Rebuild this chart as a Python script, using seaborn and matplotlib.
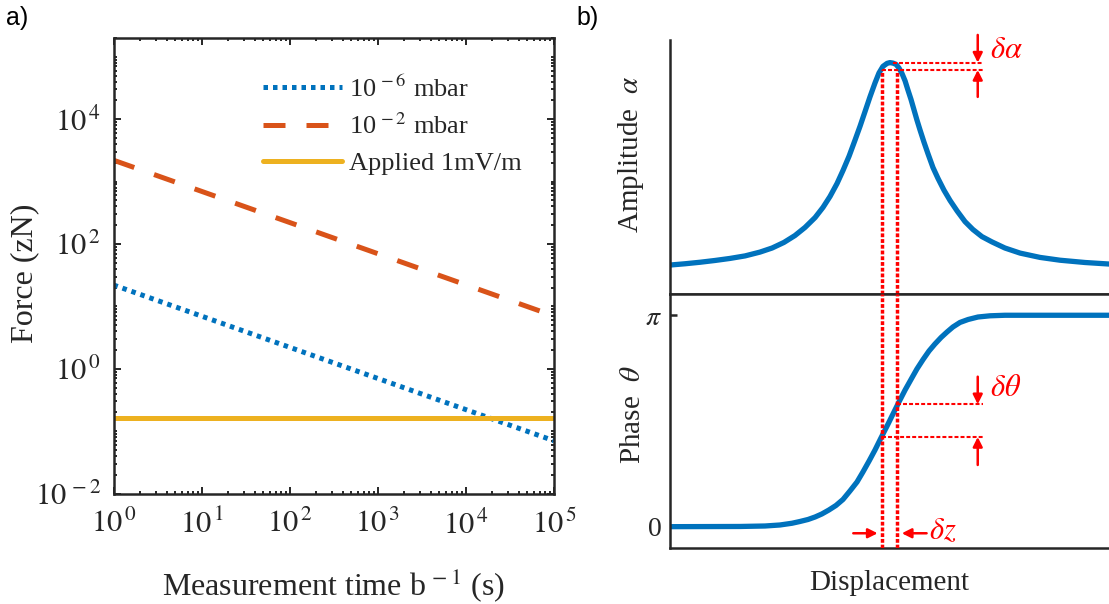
import numpy as np
import pandas as pd
import matplotlib
matplotlib.use("Agg")
import matplotlib.pyplot as plt
from matplotlib.ticker import FixedLocator, LogLocator, FuncFormatter, NullFormatter, NullLocator
import seaborn as sns

# ---------------- data ----------------
# (a) force noise vs. measurement time, straight lines on log-log axes
time_s = [1.0, 1e5]
force_low_p = [22.0, 0.07]        # 10^-6 mbar
force_high_p = [2200.0, 7.0]      # 10^-2 mbar
force_applied = [0.16, 0.16]      # applied 1 mV/m
series_labels = ["10$^{\\,-6}$ mbar", "10$^{\\,-2}$ mbar", "Applied 1mV/m"]
force_ticks = [1e-2, 1e0, 1e2, 1e4]
time_ticks = [1e0, 1e1, 1e2, 1e3, 1e4, 1e5]

# (b) resonance response vs. displacement (arbitrary units)
disp_amp = [-1.000, -0.932, -0.863, -0.795, -0.727, -0.658, -0.590, -0.535, -0.481,
            -0.431, -0.385, -0.339, -0.303, -0.271, -0.239, -0.212, -0.184, -0.157,
            -0.134, -0.112, -0.089, -0.066, -0.048, -0.030, -0.011, 0.002,
            0.016, 0.030, 0.043, 0.057, 0.071, 0.084, 0.098, 0.112, 0.125, 0.139,
            0.157, 0.175, 0.198, 0.221, 0.248, 0.276, 0.308, 0.344, 0.380, 0.421,
            0.467, 0.526, 0.595, 0.686, 0.777, 0.891, 1.000]
amplitude = [0.114, 0.119, 0.125, 0.132, 0.140, 0.150, 0.165, 0.181, 0.203,
             0.230, 0.262, 0.301, 0.341, 0.384, 0.435, 0.486, 0.543, 0.606,
             0.661, 0.717, 0.776, 0.831, 0.870, 0.896, 0.908, 0.911,
             0.909, 0.904, 0.890, 0.868, 0.839, 0.803, 0.766, 0.724, 0.685, 0.646,
             0.598, 0.553, 0.498, 0.455, 0.409, 0.368, 0.327, 0.285, 0.254, 0.226,
             0.205, 0.181, 0.161, 0.144, 0.133, 0.124, 0.118]
disp_phase = [-1.000, -0.681, -0.567, -0.499, -0.444, -0.408, -0.371, -0.339, -0.308,
              -0.276, -0.244, -0.212, -0.180, -0.148, -0.121, -0.093, -0.066, -0.039,
              -0.011, 0.016, 0.043, 0.071, 0.098, 0.125, 0.153, 0.180, 0.207, 0.235,
              0.262, 0.289, 0.321, 0.358, 0.403, 0.458, 0.526, 1.000]
phase = [0.000, 0.003, 0.010, 0.025, 0.051, 0.077, 0.107, 0.144, 0.189,
         0.248, 0.315, 0.404, 0.531, 0.664, 0.813, 0.976, 1.140, 1.318,
         1.497, 1.675, 1.853, 2.031, 2.188, 2.344, 2.485, 2.611, 2.715, 2.812,
         2.893, 2.968, 3.035, 3.079, 3.116, 3.134, 3.142, 3.142]
dz_pair = [-0.036, 0.036]          # the two displacements separated by delta z
amp_levels = [0.911, 0.882]        # amplitude at peak / at the delta-z offsets
phase_levels = [1.819, 1.333]      # phase at the two displacements

# ---------------- style ----------------
sns.set_theme(style="white")
plt.rcParams["font.family"] = ["Liberation Serif", "DejaVu Serif"]
plt.rcParams["mathtext.fontset"] = "stix"

BLUE = "#0072BD"
ORANGE = "#D95319"
YELLOW = "#EDB120"
RED = "#FF0000"
DARK = "#262626"

W, H = 1109, 604
fig = plt.figure(figsize=(W / 100, H / 100), dpi=100)

# ---------------- panel (a) ----------------
axL = fig.add_axes([113.5 / W, 1 - 493.5 / H, 440.5 / W, 455.5 / H])
axL.set_xscale("log")
axL.set_yscale("log")

sns.lineplot(x=time_s, y=force_low_p, ax=axL, color=BLUE, lw=3.6,
             linestyle=(0, (0.9, 1.0)), label=series_labels[0])
sns.lineplot(x=time_s, y=force_high_p, ax=axL, color=ORANGE, lw=3.6,
             linestyle=(0, (4.4, 4.2)), label=series_labels[1])
sns.lineplot(x=time_s, y=force_applied, ax=axL, color=YELLOW, lw=3.6,
             linestyle="-", label=series_labels[2])

axL.set_xlim(1, 1e5)
axL.set_ylim(1e-2, 2e5)

def pow10(v, pos):
    return r"$10^{\,%d}$" % int(round(np.log10(v)))

axL.xaxis.set_major_locator(FixedLocator(time_ticks))
axL.yaxis.set_major_locator(FixedLocator(force_ticks))
axL.xaxis.set_major_formatter(FuncFormatter(pow10))
axL.yaxis.set_major_formatter(FuncFormatter(pow10))
axL.xaxis.set_minor_locator(LogLocator(base=10, subs=np.arange(2, 10), numticks=50))
axL.yaxis.set_minor_locator(LogLocator(base=10, subs=np.arange(1, 10), numticks=50))
axL.xaxis.set_minor_formatter(NullFormatter())
axL.yaxis.set_minor_formatter(NullFormatter())

axL.tick_params(which="both", direction="in", top=True, right=True, left=True,
                bottom=True, color=DARK, labelcolor=DARK, labelsize=22, width=1.4)
axL.tick_params(which="major", length=5)
axL.tick_params(which="minor", length=2.5)
axL.tick_params(axis="x", which="major", pad=12)
axL.tick_params(axis="y", which="major", pad=9)
for sp in axL.spines.values():
    sp.set_visible(True)
    sp.set_color(DARK)
    sp.set_linewidth(1.8)

axL.set_ylabel("Force (zN)", fontsize=23, color=DARK)
axL.set_xlabel("Measurement time b$^{\\,-1}$ (s)", fontsize=23, color=DARK)
axL.yaxis.set_label_coords(-0.169, 0.484)
axL.xaxis.set_label_coords(0.5, -0.159)

axL.legend(loc="upper left", bbox_to_anchor=(0.339, 0.918), frameon=False,
           fontsize=19, handlelength=3.0, handletextpad=0.27, labelspacing=0.46,
           borderpad=0, borderaxespad=0)

# ---------------- panel (b) ----------------
bw = 1 - 670 / W
axA = fig.add_axes([670 / W, 1 - 294 / H, bw, 254 / H])
axP = fig.add_axes([670 / W, 1 - 548 / H, bw, 254 / H])

sns.lineplot(x=disp_amp, y=amplitude, ax=axA, color=BLUE, lw=3.8, sort=False)
sns.lineplot(x=disp_phase, y=phase, ax=axP, color=BLUE, lw=3.8, sort=False)

axA.set_xlim(-1, 1)
axA.set_ylim(0, 1)
axP.set_xlim(-1, 1)
axP.set_ylim(-0.317, 3.458)

for ax in (axA, axP):
    for sp in ax.spines.values():
        sp.set_color(DARK)
        sp.set_linewidth(1.8)
    ax.spines["right"].set_visible(False)
    ax.xaxis.set_major_locator(NullLocator())
axA.spines["top"].set_visible(False)
axA.yaxis.set_major_locator(NullLocator())

axP.set_yticks([0, 3.142])
axP.set_yticklabels(["0", r"$\pi$"])
axP.tick_params(axis="y", direction="in", length=5, width=1.8, color=DARK,
                labelcolor=DARK, labelsize=20, pad=6, left=True)

axA.set_ylabel(r"Amplitude  $\alpha$", fontsize=21, color=DARK)
axP.set_ylabel(r"Phase  $\theta$", fontsize=21, color=DARK)
axA.yaxis.set_label_coords(-0.055, 0.551)
axP.yaxis.set_label_coords(-0.055, 0.524)
axP.set_xlabel("Displacement", fontsize=21, color=DARK)
axP.xaxis.set_label_coords(0.5, -0.087)

# red guides: delta z verticals and the corresponding amplitude / phase offsets
v_ls = (0, (1.1, 0.55))
h_ls = (0, (1.9, 1.0))
x_end = 0.426
axA.vlines(dz_pair, 0, amp_levels[1], colors=RED, lw=2.5, linestyles=[v_ls], zorder=5)
axP.vlines(dz_pair, -0.317, 3.458, colors=RED, lw=2.5, linestyles=[v_ls], zorder=5)
axA.hlines(amp_levels[0], 0.016, x_end, colors=RED, lw=1.5, linestyles=[h_ls], zorder=5)
axA.hlines(amp_levels[1], dz_pair[0], x_end, colors=RED, lw=1.5, linestyles=[h_ls], zorder=5)
axP.hlines(phase_levels[0], dz_pair[1], x_end, colors=RED, lw=1.5, linestyles=[h_ls], zorder=5)
axP.hlines(phase_levels[1], dz_pair[0], x_end, colors=RED, lw=1.5, linestyles=[h_ls], zorder=5)

arrow_kw = dict(arrowstyle="-|>", color=RED, lw=1.8, mutation_scale=14,
                shrinkA=0, shrinkB=0)
xa = 0.402
axA.annotate("", xy=(xa, amp_levels[0]), xytext=(xa, 1.02),
             arrowprops=arrow_kw, annotation_clip=False)
axA.annotate("", xy=(xa, amp_levels[1]), xytext=(xa, 0.776),
             arrowprops=arrow_kw, annotation_clip=False)
axP.annotate("", xy=(xa, phase_levels[0]), xytext=(xa, 2.229),
             arrowprops=arrow_kw, annotation_clip=False)
axP.annotate("", xy=(xa, phase_levels[1]), xytext=(xa, 0.917),
             arrowprops=arrow_kw, annotation_clip=False)
axP.annotate("", xy=(-0.054, -0.098), xytext=(-0.165, -0.098),
             arrowprops=arrow_kw, annotation_clip=False)
axP.annotate("", xy=(0.056, -0.098), xytext=(0.169, -0.098),
             arrowprops=arrow_kw, annotation_clip=False)

axA.text(0.458, 0.957, r"$\delta\alpha$", color=RED, fontsize=22,
         ha="left", va="center", clip_on=False)
axP.text(0.458, 2.06, r"$\delta\theta$", color=RED, fontsize=22,
         ha="left", va="center", clip_on=False)
axP.text(0.18, -0.071, r"$\delta z$", color=RED, fontsize=22,
         ha="left", va="center", clip_on=False)

# panel letters
fig.text(6 / W, 1 - 6 / H, "a)", family="Liberation Sans", fontsize=18,
         color="black", ha="left", va="top")
fig.text(576 / W, 1 - 6 / H, "b)", family="Liberation Sans", fontsize=18,
         color="black", ha="left", va="top")

fig.savefig("out.png", dpi=100)
